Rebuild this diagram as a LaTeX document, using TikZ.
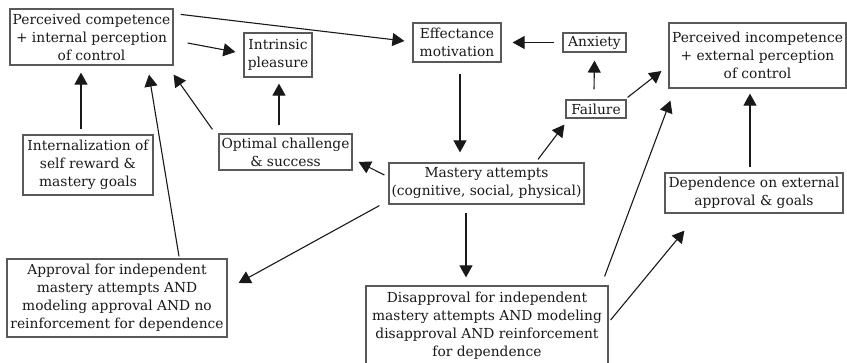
\documentclass[tikz,border=0pt]{standalone}
\usepackage{fontspec}
\setmainfont{DejaVu Serif}
\usetikzlibrary{arrows.meta}
\tikzset{
  box/.style={draw=black!65, line width=1.2pt, inner sep=0pt, align=center,
    text=black!90, font=\fontsize{13.8}{18}\selectfont},
  arr/.style={draw=black!90, line width=1.1pt, -{Triangle[length=12pt,width=13pt]}}
}
\begin{document}
\begin{tikzpicture}[x=1pt,y=-1pt]
\useasboundingbox (0,0) rectangle (847,363);
\node[box, minimum width=163pt, minimum height=56pt] (pc) at (91.5,37) {Perceived competence\\+ internal perception\\of control};
\node[box, minimum width=68pt, minimum height=44pt] (ip) at (278,55) {Intrinsic\\pleasure};
\node[box, minimum width=88pt, minimum height=39pt] (eff) at (457,42.5) {Effectance\\motivation};
\node[box, minimum width=63pt, minimum height=19pt] (anx) at (594.5,42.5) {Anxiety};
\node[box, minimum width=177pt, minimum height=65pt] (pi) at (757.5,55.5) {Perceived incompetence\\+ external perception\\of control};
\node[box, minimum width=60pt, minimum height=18pt] (fail) at (596,109) {Failure};
\node[box, minimum width=130pt, minimum height=60pt] (int) at (88,165) {Internalization of\\self reward \&\\mastery goals};
\node[box, minimum width=133pt, minimum height=36pt] (oc) at (285.5,152) {Optimal challenge\\\& success};
\node[box, minimum width=195pt, minimum height=41pt] (ma) at (486.5,183.5) {Mastery attempts\\(cognitive, social, physical)};
\node[box, minimum width=178pt, minimum height=40pt] (dep) at (754,193) {Dependence on external\\approval \& goals};
\node[box, minimum width=220pt, minimum height=78pt] (app) at (117,298) {Approval for independent\\mastery attempts AND\\modeling approval AND no\\reinforcement for dependence};
\node[box, minimum width=242pt, minimum height=80pt] (dis) at (487,326) {Disapproval for independent\\mastery attempts AND modeling\\disapproval AND reinforcement\\for dependence};
% connectors
\draw[arr] ([shift={(7,6)}]pc.north east) -- ([shift={(-8,-1.5)}]eff.west);
\draw[arr] ([shift={(14,6)}]pc.east) -- ([shift={(-8,-3)}]ip.west);
\draw[arr] ([shift={(-7,-5)}]int.north) -- ([shift={(-10.5,7)}]pc.south);
\draw[arr] ([shift={(62,-2)}]app.north) -- ([shift={(57.5,9)}]pc.south);
\draw[arr] ([shift={(-6,-4)}]oc.north west) -- ([shift={(0,9)}]pc.south east);
\draw[arr] ([shift={(-6.5,-8)}]oc.north) -- ([shift={(1,6)}]ip.south);
\draw[arr] ([shift={(-4,-8.5)}]ma.west) -- ([shift={(6,10)}]oc.east);
\draw[arr] ([shift={(-9,1)}]ma.south west) -- ([shift={(11,-15)}]app.east);
\draw[arr] ([shift={(-8,0)}]anx.west) -- ([shift={(11,0)}]eff.east);
\draw[arr] ([shift={(-2,-10)}]fail.north) -- ([shift={(0,8)}]anx.south);
\draw[arr] ([shift={(51.5,-3)}]ma.north) -- ([shift={(-1,6)}]fail.south west);
\draw[arr] ([shift={(1,-2)}]fail.north east) -- ([shift={(-7,15.5)}]pi.west);
\draw[arr] ([shift={(3,11)}]eff.south) -- ([shift={(-26.5,-10)}]ma.north);
\draw[arr] ([shift={(-20.5,8)}]ma.south) -- ([shift={(-21,-8)}]dis.north);
\draw[arr] ([shift={(-4,-9)}]dis.north east) -- ([shift={(2,12)}]pi.south west);
\draw[arr] ([shift={(2,-6)}]dis.east) -- ([shift={(20,17)}]dep.south west);
\draw[arr] ([shift={(-4,-5)}]dep.north) -- ([shift={(-7.5,5)}]pi.south);
\end{tikzpicture}
\end{document}
